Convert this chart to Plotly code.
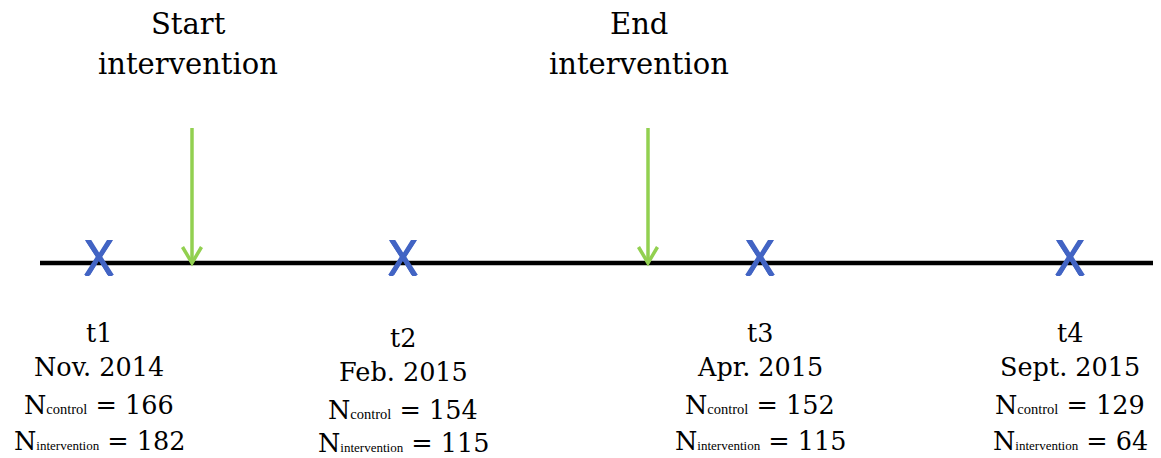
import plotly.graph_objects as go

# ---- data ----
timepoints = ["t1", "t2", "t3", "t4"]
dates = ["Nov. 2014", "Feb. 2015", "Apr. 2015", "Sept. 2015"]
n_control = [166, 154, 152, 129]
n_intervention = [182, 115, 115, 64]
# schematic position of each measurement on the timeline (arbitrary units)
timepoint_pos = [0.99, 4.03, 7.60, 10.70]

event_titles = ["Start", "End"]
event_pos = [1.92, 6.48]
event_label_pos = [1.88, 6.39]

BLUE = "#4264C4"
GREEN = "#92D050"
SERIF = "DejaVu Serif"
SUB = "font-family:'Liberation Serif';font-size:%spx"

fig = go.Figure()

# timeline baseline
fig.add_shape(type="line", xref="x", yref="y", x0=0.40, x1=11.70, y0=0, y1=0,
              line=dict(color="black", width=4.5), layer="below")

# intervention arrows (shaft + open chevron head)
for p in event_pos:
    fig.add_trace(go.Scatter(x=[p, p], y=[0, 135], mode="lines",
                             line=dict(color=GREEN, width=3.5),
                             hoverinfo="skip", showlegend=False))
    fig.add_trace(go.Scatter(x=[p - 0.095, p, p + 0.095], y=[16, 0, 16], mode="lines",
                             line=dict(color=GREEN, width=3.5),
                             hoverinfo="skip", showlegend=False))

# measurement markers
fig.add_trace(go.Scatter(x=timepoint_pos, y=[0] * len(timepoint_pos), mode="text",
                         text=["X"] * len(timepoint_pos), textposition="middle center",
                         textfont=dict(family="Open Sans", size=49, color=BLUE,
                                       shadow="0.8px 0 0 %s, -0.8px 0 0 %s, 0 0.5px 0 %s" % (BLUE, BLUE, BLUE)),
                         hoverinfo="skip", showlegend=False))

annotations = []
# header labels
for t, p in zip(event_titles, event_label_pos):
    annotations.append(dict(x=p, y=239, xref="x", yref="y", text=t, showarrow=False,
                            font=dict(family=SERIF, size=29, color="black"),
                            xanchor="center", yanchor="middle"))
    annotations.append(dict(x=p, y=199, xref="x", yref="y", text="intervention",
                            showarrow=False,
                            font=dict(family=SERIF, size=29, color="black"),
                            xanchor="center", yanchor="middle"))

# labels below each time point
rows = [-70, -104, -142, -178]
t2_shift = [-5, -5, -5, -2]
for i, p in enumerate(timepoint_pos):
    lines = [
        timepoints[i],
        dates[i],
        "N<span style=\"%s\">control</span> = %d" % (SUB % 14.5, n_control[i]),
        "N<span style=\"%s\">intervention</span> = %d" % (SUB % 13, n_intervention[i]),
    ]
    for k, (r, txt) in enumerate(zip(rows, lines)):
        off = t2_shift[k] if i == 1 else 0
        annotations.append(dict(x=p, y=r + off, xref="x", yref="y", text=txt, showarrow=False,
                                font=dict(family=SERIF, size=25.5, color="black"),
                                xanchor="center", yanchor="middle"))

# the page body has an 8px margin, so the figure is 8px smaller and its axes are
# shifted so that the drawing sits where the reference has it
fig.update_layout(
    width=1153, height=450,
    margin=dict(l=0, r=0, t=0, b=0),
    paper_bgcolor="white", plot_bgcolor="white",
    xaxis=dict(range=[0.08, 11.61], visible=False, fixedrange=True),
    yaxis=dict(range=[-195, 255], visible=False, fixedrange=True),
    annotations=annotations,
    showlegend=False,
)

fig.write_html("out.html")
